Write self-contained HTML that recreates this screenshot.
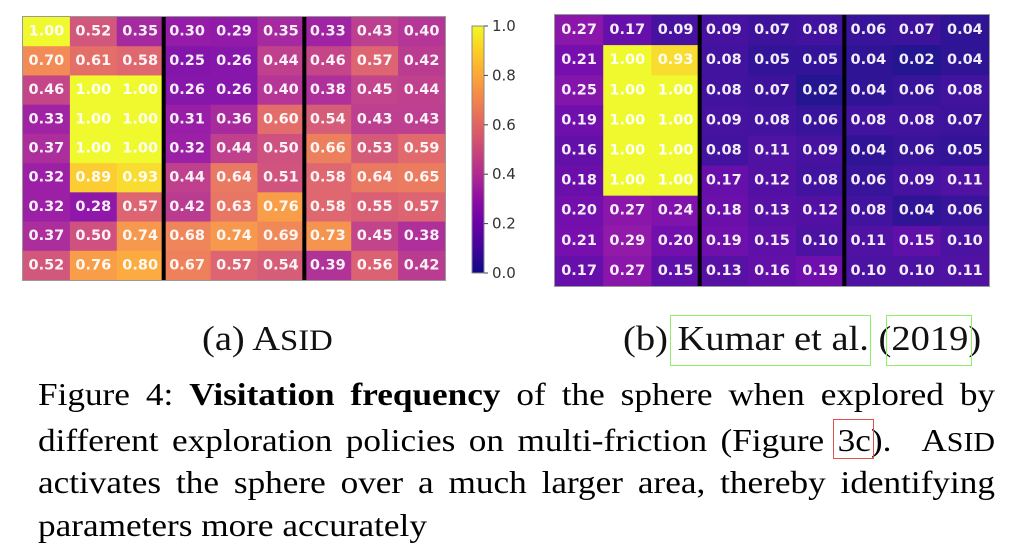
<!DOCTYPE html>
<html><head><meta charset="utf-8">
<style>
html,body{margin:0;padding:0;background:#fff;}
body{width:1024px;height:546px;position:relative;overflow:hidden;}
svg{position:absolute;left:0;top:0;}
.t text{font-family:"DejaVu Sans",sans-serif;font-weight:bold;font-size:14.5px;fill:#fff;fill-opacity:.93;text-anchor:middle;dominant-baseline:central;}
.cb text{font-family:"DejaVu Sans",sans-serif;font-size:15px;fill:#333;dominant-baseline:central;}
.ln{position:absolute;left:38px;width:870px;font-family:"Liberation Serif",serif;font-size:32px;line-height:32px;color:#000;transform:scaleX(1.1);transform-origin:0 0;white-space:nowrap;}
.j{text-align:justify;text-align-last:justify;white-space:normal;}
.cap{position:absolute;font-family:"Liberation Serif",serif;font-size:35px;line-height:35px;color:#111;transform:scaleX(1.1);transform-origin:0 0;white-space:nowrap;}
.s{font-size:.85em;}
.box{position:absolute;box-sizing:border-box;}
</style></head><body>
<svg width="1024" height="546" viewBox="0 0 1024 546">
<defs>
<linearGradient id="pl" x1="0" y1="0" x2="0" y2="1">
<stop offset="0" stop-color="#f0f921"/><stop offset=".1" stop-color="#fcce25"/><stop offset=".2" stop-color="#fca636"/><stop offset=".3" stop-color="#f2844b"/><stop offset=".4" stop-color="#e16462"/><stop offset=".5" stop-color="#cc4778"/><stop offset=".6" stop-color="#b12a90"/><stop offset=".7" stop-color="#8f0da4"/><stop offset=".8" stop-color="#6a00a8"/><stop offset=".9" stop-color="#41049d"/><stop offset="1" stop-color="#0d0887"/>
</linearGradient>
</defs>
<!-- LEFT HEATMAP -->
<g transform="translate(23,17)">
<g transform="translate(0,0)">
<rect x="0" width="47.4" height="29.7" fill="#f0f921"/><rect x="46.89" width="47.4" height="29.7" fill="#d04d74"/><rect x="93.78" width="47.4" height="29.7" fill="#a01c9a"/><rect x="140.67" width="47.4" height="29.7" fill="#8f0da4"/><rect x="187.56" width="47.4" height="29.7" fill="#8b0ca4"/><rect x="234.44" width="47.4" height="29.7" fill="#a01c9a"/><rect x="281.33" width="47.4" height="29.7" fill="#99169e"/><rect x="328.22" width="47.4" height="29.7" fill="#b93389"/><rect x="375.11" width="47.4" height="29.7" fill="#b12a90"/>
</g>
<g transform="translate(0,29.22)">
<rect x="0" width="47.4" height="29.7" fill="#f2844b"/><rect x="46.89" width="47.4" height="29.7" fill="#e36760"/><rect x="93.78" width="47.4" height="29.7" fill="#dd5e66"/><rect x="140.67" width="47.4" height="29.7" fill="#7d07a6"/><rect x="187.56" width="47.4" height="29.7" fill="#8008a6"/><rect x="234.44" width="47.4" height="29.7" fill="#bc3686"/><rect x="281.33" width="47.4" height="29.7" fill="#c13b82"/><rect x="328.22" width="47.4" height="29.7" fill="#db5b69"/><rect x="375.11" width="47.4" height="29.7" fill="#b6308b"/>
</g>
<g transform="translate(0,58.44)">
<rect x="0" width="47.4" height="29.7" fill="#c13b82"/><rect x="46.89" width="47.4" height="29.7" fill="#f0f921"/><rect x="93.78" width="47.4" height="29.7" fill="#f0f921"/><rect x="140.67" width="47.4" height="29.7" fill="#8008a6"/><rect x="187.56" width="47.4" height="29.7" fill="#8008a6"/><rect x="234.44" width="47.4" height="29.7" fill="#b12a90"/><rect x="281.33" width="47.4" height="29.7" fill="#aa2494"/><rect x="328.22" width="47.4" height="29.7" fill="#bf3984"/><rect x="375.11" width="47.4" height="29.7" fill="#bc3686"/>
</g>
<g transform="translate(0,87.67)">
<rect x="0" width="47.4" height="29.7" fill="#99169e"/><rect x="46.89" width="47.4" height="29.7" fill="#f0f921"/><rect x="93.78" width="47.4" height="29.7" fill="#f0f921"/><rect x="140.67" width="47.4" height="29.7" fill="#9210a2"/><rect x="187.56" width="47.4" height="29.7" fill="#a31e98"/><rect x="234.44" width="47.4" height="29.7" fill="#e16462"/><rect x="281.33" width="47.4" height="29.7" fill="#d4536f"/><rect x="328.22" width="47.4" height="29.7" fill="#b93389"/><rect x="375.11" width="47.4" height="29.7" fill="#b93389"/>
</g>
<g transform="translate(0,116.89)">
<rect x="0" width="47.4" height="29.7" fill="#a72196"/><rect x="46.89" width="47.4" height="29.7" fill="#f0f921"/><rect x="93.78" width="47.4" height="29.7" fill="#f0f921"/><rect x="140.67" width="47.4" height="29.7" fill="#9613a0"/><rect x="187.56" width="47.4" height="29.7" fill="#bc3686"/><rect x="234.44" width="47.4" height="29.7" fill="#cc4778"/><rect x="281.33" width="47.4" height="29.7" fill="#eb7754"/><rect x="328.22" width="47.4" height="29.7" fill="#d25071"/><rect x="375.11" width="47.4" height="29.7" fill="#df6164"/>
</g>
<g transform="translate(0,146.11)">
<rect x="0" width="47.4" height="29.7" fill="#9613a0"/><rect x="46.89" width="47.4" height="29.7" fill="#fcca27"/><rect x="93.78" width="47.4" height="29.7" fill="#f8db24"/><rect x="140.67" width="47.4" height="29.7" fill="#bc3686"/><rect x="187.56" width="47.4" height="29.7" fill="#e87159"/><rect x="234.44" width="47.4" height="29.7" fill="#ce4a76"/><rect x="281.33" width="47.4" height="29.7" fill="#dd5e66"/><rect x="328.22" width="47.4" height="29.7" fill="#e87159"/><rect x="375.11" width="47.4" height="29.7" fill="#ea7457"/>
</g>
<g transform="translate(0,175.33)">
<rect x="0" width="47.4" height="29.7" fill="#9613a0"/><rect x="46.89" width="47.4" height="29.7" fill="#880aa5"/><rect x="93.78" width="47.4" height="29.7" fill="#db5b69"/><rect x="140.67" width="47.4" height="29.7" fill="#b6308b"/><rect x="187.56" width="47.4" height="29.7" fill="#e66e5b"/><rect x="234.44" width="47.4" height="29.7" fill="#f8983e"/><rect x="281.33" width="47.4" height="29.7" fill="#dd5e66"/><rect x="328.22" width="47.4" height="29.7" fill="#d7566d"/><rect x="375.11" width="47.4" height="29.7" fill="#db5b69"/>
</g>
<g transform="translate(0,204.56)">
<rect x="0" width="47.4" height="29.7" fill="#a72196"/><rect x="46.89" width="47.4" height="29.7" fill="#cc4778"/><rect x="93.78" width="47.4" height="29.7" fill="#f69243"/><rect x="140.67" width="47.4" height="29.7" fill="#ef7e50"/><rect x="187.56" width="47.4" height="29.7" fill="#f69243"/><rect x="234.44" width="47.4" height="29.7" fill="#f0814d"/><rect x="281.33" width="47.4" height="29.7" fill="#f58e45"/><rect x="328.22" width="47.4" height="29.7" fill="#bf3984"/><rect x="375.11" width="47.4" height="29.7" fill="#aa2494"/>
</g>
<g transform="translate(0,233.78)">
<rect x="0" width="47.4" height="29.22" fill="#d04d74"/><rect x="46.89" width="47.4" height="29.22" fill="#f8983e"/><rect x="93.78" width="47.4" height="29.22" fill="#fca636"/><rect x="140.67" width="47.4" height="29.22" fill="#ed7a52"/><rect x="187.56" width="47.4" height="29.22" fill="#db5b69"/><rect x="234.44" width="47.4" height="29.22" fill="#d4536f"/><rect x="281.33" width="47.4" height="29.22" fill="#ae2792"/><rect x="328.22" width="47.4" height="29.22" fill="#d9586b"/><rect x="375.11" width="46.89" height="29.22" fill="#b6308b"/>
</g>
<rect x="0" y="0" width="422" height="263" fill="#fff" fill-opacity="0.06"/>
<rect x="138.67" y="0" width="4" height="263" fill="#000"/>
<rect x="279.33" y="0" width="4" height="263" fill="#000"/>
<rect x="-0.5" y="-0.5" width="423" height="264" fill="none" stroke="#999" stroke-width="1"/>
<g class="t">
<g transform="translate(0,14.61)"><text x="23.4">1.00</text><text x="70.3">0.52</text><text x="117.2">0.35</text><text x="164.1">0.30</text><text x="211">0.29</text><text x="257.9">0.35</text><text x="304.8">0.33</text><text x="351.7">0.43</text><text x="398.6">0.40</text></g>
<g transform="translate(0,43.83)"><text x="23.4">0.70</text><text x="70.3">0.61</text><text x="117.2">0.58</text><text x="164.1">0.25</text><text x="211">0.26</text><text x="257.9">0.44</text><text x="304.8">0.46</text><text x="351.7">0.57</text><text x="398.6">0.42</text></g>
<g transform="translate(0,73.06)"><text x="23.4">0.46</text><text x="70.3">1.00</text><text x="117.2">1.00</text><text x="164.1">0.26</text><text x="211">0.26</text><text x="257.9">0.40</text><text x="304.8">0.38</text><text x="351.7">0.45</text><text x="398.6">0.44</text></g>
<g transform="translate(0,102.28)"><text x="23.4">0.33</text><text x="70.3">1.00</text><text x="117.2">1.00</text><text x="164.1">0.31</text><text x="211">0.36</text><text x="257.9">0.60</text><text x="304.8">0.54</text><text x="351.7">0.43</text><text x="398.6">0.43</text></g>
<g transform="translate(0,131.5)"><text x="23.4">0.37</text><text x="70.3">1.00</text><text x="117.2">1.00</text><text x="164.1">0.32</text><text x="211">0.44</text><text x="257.9">0.50</text><text x="304.8">0.66</text><text x="351.7">0.53</text><text x="398.6">0.59</text></g>
<g transform="translate(0,160.72)"><text x="23.4">0.32</text><text x="70.3">0.89</text><text x="117.2">0.93</text><text x="164.1">0.44</text><text x="211">0.64</text><text x="257.9">0.51</text><text x="304.8">0.58</text><text x="351.7">0.64</text><text x="398.6">0.65</text></g>
<g transform="translate(0,189.94)"><text x="23.4">0.32</text><text x="70.3">0.28</text><text x="117.2">0.57</text><text x="164.1">0.42</text><text x="211">0.63</text><text x="257.9">0.76</text><text x="304.8">0.58</text><text x="351.7">0.55</text><text x="398.6">0.57</text></g>
<g transform="translate(0,219.17)"><text x="23.4">0.37</text><text x="70.3">0.50</text><text x="117.2">0.74</text><text x="164.1">0.68</text><text x="211">0.74</text><text x="257.9">0.69</text><text x="304.8">0.73</text><text x="351.7">0.45</text><text x="398.6">0.38</text></g>
<g transform="translate(0,248.39)"><text x="23.4">0.52</text><text x="70.3">0.76</text><text x="117.2">0.80</text><text x="164.1">0.67</text><text x="211">0.57</text><text x="257.9">0.54</text><text x="304.8">0.39</text><text x="351.7">0.56</text><text x="398.6">0.42</text></g>
</g>
</g>

<!-- COLORBAR -->
<g class="cb">
<rect x="472" y="26" width="12" height="247" fill="url(#pl)" stroke="#888" stroke-width="1"/>
<g stroke="#444" stroke-width="1">
<line x1="484" y1="26" x2="488" y2="26"/><line x1="484" y1="75.4" x2="488" y2="75.4"/><line x1="484" y1="124.8" x2="488" y2="124.8"/><line x1="484" y1="174.2" x2="488" y2="174.2"/><line x1="484" y1="223.6" x2="488" y2="223.6"/><line x1="484" y1="273" x2="488" y2="273"/>
</g>
<text x="492" y="26">1.0</text><text x="492" y="75.4">0.8</text><text x="492" y="124.8">0.6</text><text x="492" y="174.2">0.4</text><text x="492" y="223.6">0.2</text><text x="492" y="273">0.0</text>
</g>

<!-- RIGHT HEATMAP -->
<g transform="translate(555,15)">
<g transform="translate(0,0)">
<rect x="0" width="48.7" height="30.6" fill="#8409a5"/><rect x="48.22" width="48.7" height="30.6" fill="#5e01a5"/><rect x="96.44" width="48.7" height="30.6" fill="#3c049b"/><rect x="144.67" width="48.7" height="30.6" fill="#3c049b"/><rect x="192.89" width="48.7" height="30.6" fill="#310596"/><rect x="241.11" width="48.7" height="30.6" fill="#370599"/><rect x="289.33" width="48.7" height="30.6" fill="#2c0694"/><rect x="337.56" width="48.7" height="30.6" fill="#310596"/><rect x="385.78" width="48.22" height="30.6" fill="#220690"/>
</g>
<g transform="translate(0,30.11)">
<rect x="0" width="48.7" height="30.6" fill="#6e01a8"/><rect x="48.22" width="48.7" height="30.6" fill="#f0f921"/><rect x="96.44" width="48.7" height="30.6" fill="#f8db24"/><rect x="144.67" width="48.7" height="30.6" fill="#370599"/><rect x="192.89" width="48.7" height="30.6" fill="#270692"/><rect x="241.11" width="48.7" height="30.6" fill="#270692"/><rect x="289.33" width="48.7" height="30.6" fill="#220690"/><rect x="337.56" width="48.7" height="30.6" fill="#17078b"/><rect x="385.78" width="48.22" height="30.6" fill="#220690"/>
</g>
<g transform="translate(0,60.22)">
<rect x="0" width="48.7" height="30.6" fill="#7d07a6"/><rect x="48.22" width="48.7" height="30.6" fill="#f0f921"/><rect x="96.44" width="48.7" height="30.6" fill="#f0f921"/><rect x="144.67" width="48.7" height="30.6" fill="#370599"/><rect x="192.89" width="48.7" height="30.6" fill="#310596"/><rect x="241.11" width="48.7" height="30.6" fill="#17078b"/><rect x="289.33" width="48.7" height="30.6" fill="#220690"/><rect x="337.56" width="48.7" height="30.6" fill="#2c0694"/><rect x="385.78" width="48.22" height="30.6" fill="#370599"/>
</g>
<g transform="translate(0,90.33)">
<rect x="0" width="48.7" height="30.6" fill="#6600a7"/><rect x="48.22" width="48.7" height="30.6" fill="#f0f921"/><rect x="96.44" width="48.7" height="30.6" fill="#f0f921"/><rect x="144.67" width="48.7" height="30.6" fill="#3c049b"/><rect x="192.89" width="48.7" height="30.6" fill="#370599"/><rect x="241.11" width="48.7" height="30.6" fill="#2c0694"/><rect x="289.33" width="48.7" height="30.6" fill="#370599"/><rect x="337.56" width="48.7" height="30.6" fill="#370599"/><rect x="385.78" width="48.22" height="30.6" fill="#310596"/>
</g>
<g transform="translate(0,120.44)">
<rect x="0" width="48.7" height="30.6" fill="#5a02a4"/><rect x="48.22" width="48.7" height="30.6" fill="#f0f921"/><rect x="96.44" width="48.7" height="30.6" fill="#f0f921"/><rect x="144.67" width="48.7" height="30.6" fill="#370599"/><rect x="192.89" width="48.7" height="30.6" fill="#45049e"/><rect x="241.11" width="48.7" height="30.6" fill="#3c049b"/><rect x="289.33" width="48.7" height="30.6" fill="#220690"/><rect x="337.56" width="48.7" height="30.6" fill="#2c0694"/><rect x="385.78" width="48.22" height="30.6" fill="#270692"/>
</g>
<g transform="translate(0,150.56)">
<rect x="0" width="48.7" height="30.6" fill="#6201a6"/><rect x="48.22" width="48.7" height="30.6" fill="#f0f921"/><rect x="96.44" width="48.7" height="30.6" fill="#f0f921"/><rect x="144.67" width="48.7" height="30.6" fill="#5e01a5"/><rect x="192.89" width="48.7" height="30.6" fill="#49039f"/><rect x="241.11" width="48.7" height="30.6" fill="#370599"/><rect x="289.33" width="48.7" height="30.6" fill="#2c0694"/><rect x="337.56" width="48.7" height="30.6" fill="#3c049b"/><rect x="385.78" width="48.22" height="30.6" fill="#45049e"/>
</g>
<g transform="translate(0,180.67)">
<rect x="0" width="48.7" height="30.6" fill="#6a00a8"/><rect x="48.22" width="48.7" height="30.6" fill="#8409a5"/><rect x="96.44" width="48.7" height="30.6" fill="#7905a6"/><rect x="144.67" width="48.7" height="30.6" fill="#6201a6"/><rect x="192.89" width="48.7" height="30.6" fill="#4d03a0"/><rect x="241.11" width="48.7" height="30.6" fill="#49039f"/><rect x="289.33" width="48.7" height="30.6" fill="#370599"/><rect x="337.56" width="48.7" height="30.6" fill="#220690"/><rect x="385.78" width="48.22" height="30.6" fill="#2c0694"/>
</g>
<g transform="translate(0,210.78)">
<rect x="0" width="48.7" height="30.6" fill="#6e01a8"/><rect x="48.22" width="48.7" height="30.6" fill="#8b0ca4"/><rect x="96.44" width="48.7" height="30.6" fill="#6a00a8"/><rect x="144.67" width="48.7" height="30.6" fill="#6600a7"/><rect x="192.89" width="48.7" height="30.6" fill="#5602a3"/><rect x="241.11" width="48.7" height="30.6" fill="#41049d"/><rect x="289.33" width="48.7" height="30.6" fill="#45049e"/><rect x="337.56" width="48.7" height="30.6" fill="#5602a3"/><rect x="385.78" width="48.22" height="30.6" fill="#41049d"/>
</g>
<g transform="translate(0,240.89)">
<rect x="0" width="48.7" height="30.11" fill="#5e01a5"/><rect x="48.22" width="48.7" height="30.11" fill="#8409a5"/><rect x="96.44" width="48.7" height="30.11" fill="#5602a3"/><rect x="144.67" width="48.7" height="30.11" fill="#4d03a0"/><rect x="192.89" width="48.7" height="30.11" fill="#5a02a4"/><rect x="241.11" width="48.7" height="30.11" fill="#6600a7"/><rect x="289.33" width="48.7" height="30.11" fill="#41049d"/><rect x="337.56" width="48.7" height="30.11" fill="#41049d"/><rect x="385.78" width="48.22" height="30.11" fill="#45049e"/>
</g>
<rect x="0" y="0" width="434" height="271" fill="#fff" fill-opacity="0.06"/>
<rect x="142.67" y="0" width="4" height="271" fill="#000"/>
<rect x="287.33" y="0" width="4" height="271" fill="#000"/>
<rect x="-0.5" y="-0.5" width="435" height="272" fill="none" stroke="#999" stroke-width="1"/>
<g class="t">
<g transform="translate(0,15.06)"><text x="24.1">0.27</text><text x="72.3">0.17</text><text x="120.6">0.09</text><text x="168.8">0.09</text><text x="217">0.07</text><text x="265.2">0.08</text><text x="313.4">0.06</text><text x="361.7">0.07</text><text x="409.9">0.04</text></g>
<g transform="translate(0,45.17)"><text x="24.1">0.21</text><text x="72.3">1.00</text><text x="120.6">0.93</text><text x="168.8">0.08</text><text x="217">0.05</text><text x="265.2">0.05</text><text x="313.4">0.04</text><text x="361.7">0.02</text><text x="409.9">0.04</text></g>
<g transform="translate(0,75.28)"><text x="24.1">0.25</text><text x="72.3">1.00</text><text x="120.6">1.00</text><text x="168.8">0.08</text><text x="217">0.07</text><text x="265.2">0.02</text><text x="313.4">0.04</text><text x="361.7">0.06</text><text x="409.9">0.08</text></g>
<g transform="translate(0,105.39)"><text x="24.1">0.19</text><text x="72.3">1.00</text><text x="120.6">1.00</text><text x="168.8">0.09</text><text x="217">0.08</text><text x="265.2">0.06</text><text x="313.4">0.08</text><text x="361.7">0.08</text><text x="409.9">0.07</text></g>
<g transform="translate(0,135.5)"><text x="24.1">0.16</text><text x="72.3">1.00</text><text x="120.6">1.00</text><text x="168.8">0.08</text><text x="217">0.11</text><text x="265.2">0.09</text><text x="313.4">0.04</text><text x="361.7">0.06</text><text x="409.9">0.05</text></g>
<g transform="translate(0,165.61)"><text x="24.1">0.18</text><text x="72.3">1.00</text><text x="120.6">1.00</text><text x="168.8">0.17</text><text x="217">0.12</text><text x="265.2">0.08</text><text x="313.4">0.06</text><text x="361.7">0.09</text><text x="409.9">0.11</text></g>
<g transform="translate(0,195.72)"><text x="24.1">0.20</text><text x="72.3">0.27</text><text x="120.6">0.24</text><text x="168.8">0.18</text><text x="217">0.13</text><text x="265.2">0.12</text><text x="313.4">0.08</text><text x="361.7">0.04</text><text x="409.9">0.06</text></g>
<g transform="translate(0,225.83)"><text x="24.1">0.21</text><text x="72.3">0.29</text><text x="120.6">0.20</text><text x="168.8">0.19</text><text x="217">0.15</text><text x="265.2">0.10</text><text x="313.4">0.11</text><text x="361.7">0.15</text><text x="409.9">0.10</text></g>
<g transform="translate(0,255.94)"><text x="24.1">0.17</text><text x="72.3">0.27</text><text x="120.6">0.15</text><text x="168.8">0.13</text><text x="217">0.16</text><text x="265.2">0.19</text><text x="313.4">0.10</text><text x="361.7">0.10</text><text x="409.9">0.11</text></g>
</g>
</g>
</svg>

<div class="cap" style="left:202px;top:321px;">(a) A<span class="s">SID</span></div>
<div class="cap" style="left:623px;top:321px;">(b) Kumar et al. (2019)</div>
<div class="box" style="left:670px;top:315px;width:201px;height:51px;border:1.5px solid #8ef06a;"></div>
<div class="box" style="left:886px;top:315px;width:86px;height:51px;border:1.5px solid #8ef06a;"></div>

<div class="ln j" style="top:378px;">Figure 4: <b>Visitation frequency</b> of the sphere when explored by</div>
<div class="ln j" style="top:424px;">different exploration policies on multi-friction (Figure 3c). <span style="margin-left:15px">A<span class="s">SID</span></span></div>
<div class="ln j" style="top:466px;">activates the sphere over a much larger area, thereby identifying</div>
<div class="ln" style="top:509px;">parameters more accurately</div>
<div class="box" style="left:833px;top:419px;width:41px;height:40px;border:1.5px solid #e0524a;"></div>
</body></html>
